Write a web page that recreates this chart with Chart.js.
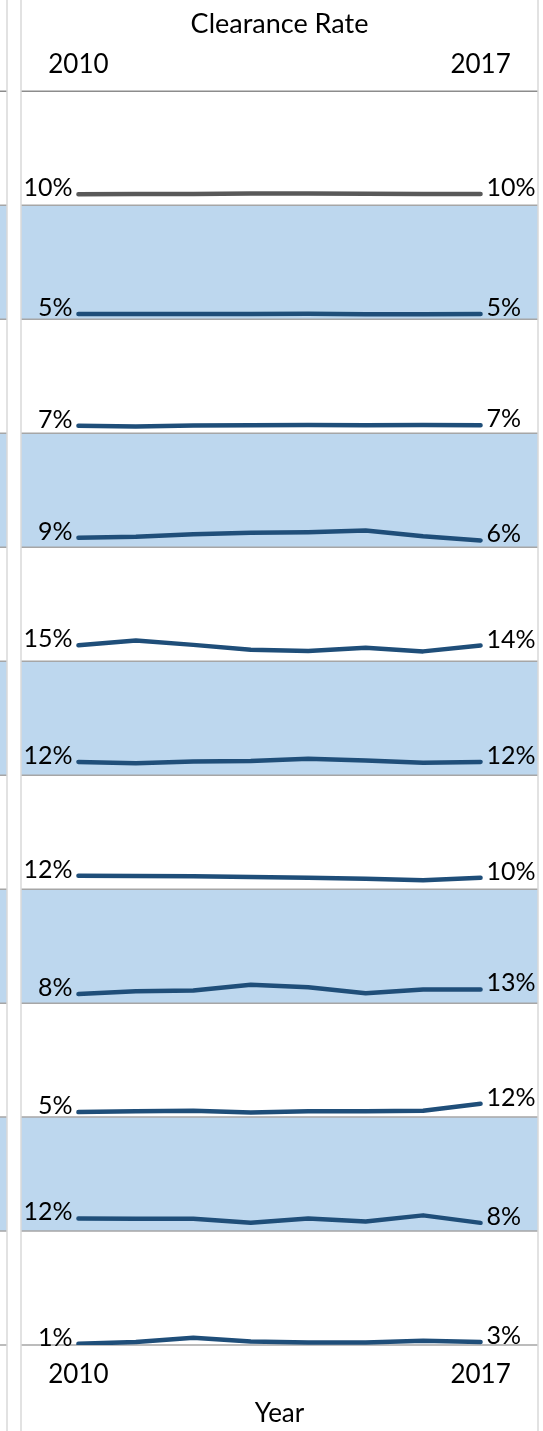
<!DOCTYPE html>
<html>
<head>
<meta charset="utf-8">
<script src="https://cdn.jsdelivr.net/npm/chart.js@4"></script>
<style>
body { margin: 0; background: #fff; }
#wrap { width: 543px; height: 1431px; position: relative; }
</style>
</head>
<body>
<div id="wrap"><canvas id="myChart"></canvas></div>
<script>
var years = [2010, 2011, 2012, 2013, 2014, 2015, 2016, 2017];
var tickYears = [2010, 2017];

// clearance rate per row, in percent
var row1  = [10.1, 10.3, 10.4, 10.8, 10.8, 10.5, 10.4, 10.3];
var row2  = [4.7, 4.8, 4.8, 4.7, 4.9, 4.6, 4.6, 4.7];
var row3  = [6.8, 6.2, 7.0, 7.3, 7.5, 7.3, 7.6, 7.3];
var row4  = [8.7, 9.6, 12.0, 13.3, 13.8, 15.4, 10.1, 6.2];
var row5  = [14.7, 19.0, 15.0, 10.6, 9.3, 12.3, 9.0, 14.4];
var row6  = [12.2, 11.0, 12.5, 13.1, 15.2, 13.4, 11.5, 12.2];
var row7  = [12.3, 12.0, 11.8, 11.2, 10.4, 9.6, 8.2, 10.4];
var row8  = [8.3, 11.0, 11.7, 16.9, 14.7, 9.2, 12.6, 12.6];
var row9  = [4.6, 5.5, 5.9, 4.3, 5.5, 5.5, 5.9, 12.3];
var row10 = [11.7, 11.3, 11.3, 7.6, 11.7, 8.9, 14.5, 7.6];
var row11 = [1.3, 2.8, 6.7, 3.3, 2.4, 2.4, 4.0, 2.8];

var rows = [row1, row2, row3, row4, row5, row6, row7, row8, row9, row10, row11];

Chart.defaults.color = "#000";
Chart.defaults.font.family = "Lato";

var datasets = [];
var scales = {
  xTop: {
    type: "linear", position: "top", min: 2009, max: 2018,
    afterBuildTicks: function (s) { s.ticks = tickYears.map(function (v) { return {value: v}; }); },
    ticks: { font: {size: 26, lineHeight: 1.2}, padding: 11, maxRotation: 0, callback: function (v) { return String(v); } },
    grid: { display: false, drawTicks: false },
    border: { display: false },
    title: { display: true, text: "Clearance Rate", font: {size: 27, lineHeight: 1.0}, padding: {top: 11, bottom: 0} }
  },
  x: {
    type: "linear", position: "bottom", min: 2009, max: 2018,
    afterBuildTicks: function (s) { s.ticks = tickYears.map(function (v) { return {value: v}; }); },
    ticks: { font: {size: 26, lineHeight: 1.35}, padding: 11.5, maxRotation: 0, callback: function (v) { return String(v); } },
    grid: { display: false, drawTicks: false },
    border: { display: false },
    title: { display: true, text: "Year", font: {size: 26, lineHeight: 0.8}, padding: {top: 0, bottom: 7} }
  }
};

rows.forEach(function (row, i) {
  var id = "y" + i;
  datasets.push({
    data: row.map(function (v, k) { return {x: years[k], y: v}; }),
    xAxisID: "x",
    yAxisID: id,
    borderColor: i === 0 ? "#595959" : "#1f4e79",
    borderWidth: 4.5,
    borderCapStyle: "round",
    borderJoinStyle: "round",
    pointRadius: 0,
    tension: 0
  });
  scales[id] = {
    type: "linear", display: false, min: 0, max: 105,
    stack: "rows", stackWeight: 1, weight: rows.length - i
  };
});

var panelPlugin = {
  id: "panels",
  beforeDraw: function (chart) {
    var ctx = chart.ctx, a = chart.chartArea;
    ctx.save();
    ctx.fillStyle = "#fff";
    ctx.fillRect(0, 0, chart.width, chart.height);
    rows.forEach(function (row, i) {
      var s = chart.scales["y" + i];
      if (i % 2 === 1) {
        ctx.fillStyle = "#bdd7ee";
        ctx.fillRect(a.left, s.top, a.right - a.left, s.bottom - s.top);
        ctx.fillRect(0, s.top, 7, s.bottom - s.top);
      }
    });
    ctx.lineWidth = 1.5;
    rows.forEach(function (row, i) {
      var s = chart.scales["y" + i];
      ctx.strokeStyle = "#a6a6a6";
      ctx.beginPath();
      ctx.moveTo(a.left, s.bottom); ctx.lineTo(a.right, s.bottom);
      ctx.moveTo(0, s.bottom); ctx.lineTo(7, s.bottom);
      ctx.stroke();
    });
    ctx.strokeStyle = "#8c8c8c";
    ctx.beginPath();
    ctx.moveTo(a.left, a.top); ctx.lineTo(a.right, a.top);
    ctx.moveTo(0, a.top); ctx.lineTo(7, a.top);
    ctx.stroke();
    ctx.strokeStyle = "#d9d9d9";
    ctx.beginPath();
    [7, a.left, a.right].forEach(function (x) {
      ctx.moveTo(x, 0); ctx.lineTo(x, chart.height);
    });
    ctx.stroke();
    ctx.restore();
  },
  afterDatasetsDraw: function (chart) {
    var ctx = chart.ctx;
    ctx.save();
    ctx.font = "25px Lato";
    ctx.fillStyle = "#000";
    ctx.textBaseline = "alphabetic";
    rows.forEach(function (row, i) {
      var pts = chart.getDatasetMeta(i).data;
      var first = pts[0], last = pts[pts.length - 1];
      ctx.textAlign = "right";
      ctx.fillText(Math.round(row[0]) + "%", first.x - 6, first.y + 2);
      ctx.textAlign = "left";
      ctx.fillText(Math.round(row[row.length - 1]) + "%", last.x + 6, last.y + 2);
    });
    ctx.restore();
  }
};

new Chart("myChart", {
  type: "line",
  data: { datasets: datasets },
  options: {
    responsive: true,
    maintainAspectRatio: false,
    animation: false,
    layout: { padding: {left: 21, right: 5, top: 0, bottom: 0} },
    plugins: { legend: {display: false}, tooltip: {enabled: false} },
    scales: scales
  },
  plugins: [panelPlugin]
});
</script>
</body>
</html>
